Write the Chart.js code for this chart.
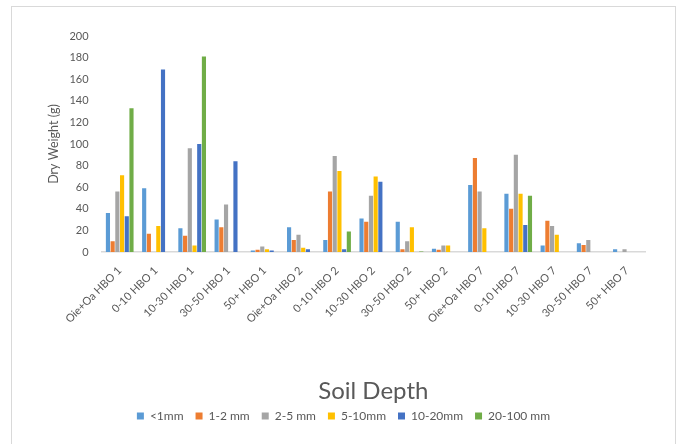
<!DOCTYPE html>
<html>
<head>
<meta charset="utf-8">
<script src="https://cdn.jsdelivr.net/npm/chart.js@4/dist/chart.umd.min.js"></script>
<style>
  html, body { margin: 0; padding: 0; background: #ffffff; }
  #wrap { width: 681px; height: 444px; position: relative; }
</style>
</head>
<body>
<div id="wrap"><canvas id="chart" width="681" height="444"></canvas></div>
<script>
// Soil samples, by depth and site
const categories = [
  'Oie+Oa HBO 1', '0-10 HBO 1', '10-30 HBO 1', '30-50 HBO 1', '50+ HBO 1',
  'Oie+Oa HBO 2', '0-10 HBO 2', '10-30 HBO 2', '30-50 HBO 2', '50+ HBO 2',
  'Oie+Oa HBO 7', '0-10 HBO 7', '10-30 HBO 7', '30-50 HBO 7', '50+ HBO 7'
];

// Dry weight (g) per size class
const lt1mm    = [36, 59, 22, 30, 1.5, 23, 11, 31, 28, 3, 62, 54, 6, 8, 2.5];
const mm1to2   = [10, 17, 15, 23, 2, 11, 56, 28, 2.5, 2, 87, 40, 29, 6.5, null];
const mm2to5   = [56, null, 96, 44, 5, 16, 89, 52, 10, 6, 56, 90, 24, 11, 2.5];
const mm5to10  = [71, 24, 6, null, 2.5, 4, 75, 70, 23, 6, 22, 54, 16, null, null];
const mm10to20 = [33, 169, 100, 84, 1.5, 2.5, 2.5, 65, null, null, null, 25, null, null, null];
const mm20to100 = [133, null, 181, null, null, null, 19, null, 0.5, null, null, 52, null, null, null];

const seriesNames = ['<1mm', '1-2 mm', '2-5 mm', '5-10mm', '10-20mm', '20-100 mm'];
const seriesValues = [lt1mm, mm1to2, mm2to5, mm5to10, mm10to20, mm20to100];
const seriesColors = ['#5B9BD5', '#ED7D31', '#A5A5A5', '#FFC000', '#4472C4', '#70AD47'];

const yTicks = { min: 0, max: 200, step: 20 };

const textGray = '#595959';
const fontFamily = 'Lato, "Open Sans", sans-serif';

// light frame around the whole chart
const framePlugin = {
  id: 'frame',
  beforeDraw(chart) {
    const ctx = chart.ctx;
    ctx.save();
    ctx.strokeStyle = '#D9D9D9';
    ctx.lineWidth = 1;
    ctx.strokeRect(11.5, 6.5, 664, 460);
    ctx.restore();
  }
};

new Chart(document.getElementById('chart'), {
  type: 'bar',
  data: {
    labels: categories,
    datasets: seriesNames.map((name, i) => ({
      label: name,
      data: seriesValues[i],
      backgroundColor: seriesColors[i],
      borderWidth: 0,
      categoryPercentage: 0.78,
      barPercentage: 0.88
    }))
  },
  options: {
    responsive: false,
    animation: false,
    devicePixelRatio: 1,
    layout: { padding: { left: 42, right: 36, top: 36, bottom: 12 } },
    plugins: {
      tooltip: { enabled: false },
      legend: {
        position: 'bottom',
        labels: {
          boxWidth: 7,
          boxHeight: 7,
          padding: 12,
          color: textGray,
          font: { family: fontFamily, size: 12 }
        }
      }
    },
    scales: {
      x: {
        grid: { display: false },
        border: { display: true, color: '#D9D9D9', width: 1.5 },
        ticks: {
          color: textGray,
          font: { family: fontFamily, size: 11 },
          minRotation: 45,
          maxRotation: 45,
          autoSkip: false,
          padding: 4
        },
        title: {
          display: true,
          text: 'Soil Depth',
          color: textGray,
          font: { family: fontFamily, size: 24 },
          padding: { top: 0, bottom: -8 }
        },
        afterFit(axis) { axis.height = 146; }
      },
      y: {
        min: yTicks.min,
        max: yTicks.max,
        grid: { display: false, drawTicks: false },
        border: { display: false },
        ticks: {
          stepSize: yTicks.step,
          color: textGray,
          font: { family: fontFamily, size: 11 },
          padding: 13
        },
        title: {
          display: true,
          text: 'Dry Weight (g)',
          color: textGray,
          font: { family: fontFamily, size: 12.5 }
        },
        afterFit(axis) { axis.width = 59.6; }
      }
    }
  },
  plugins: [framePlugin]
});
</script>
</body>
</html>
